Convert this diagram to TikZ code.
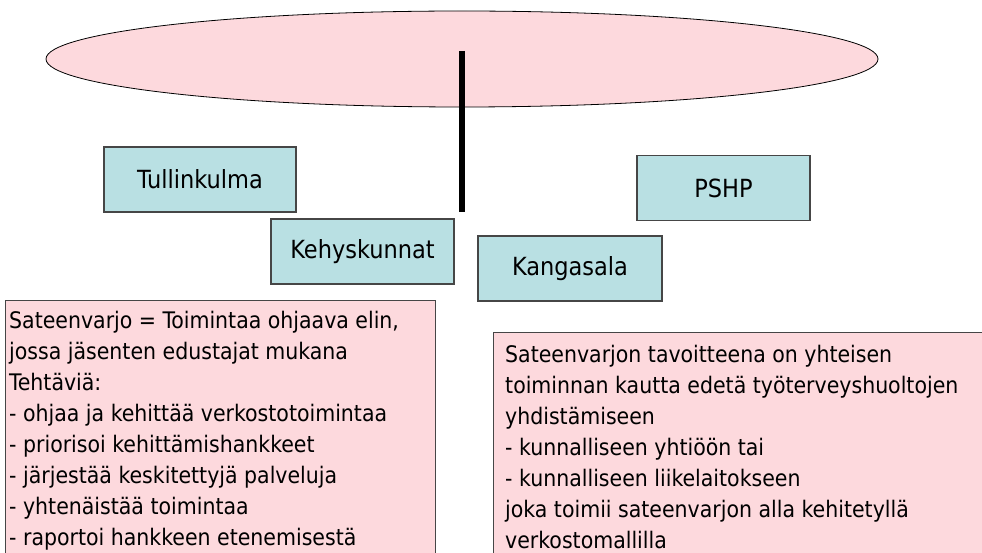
\documentclass[tikz,border=0pt]{standalone}
\usepackage{fontspec}
\setmainfont{DejaVu Sans Condensed}
\usetikzlibrary{shapes.geometric}
\definecolor{pinkfill}{RGB}{253,217,221}
\definecolor{bluefill}{RGB}{185,224,227}
\definecolor{edgegray}{RGB}{70,70,70}
\tikzset{
  orgbox/.style={draw=edgegray, line width=1.3pt, fill=bluefill, minimum width=#1, minimum height=65pt, inner sep=0pt, font=\fontsize{25}{30}\selectfont},
  infobox/.style={draw=edgegray, line width=1pt, fill=pinkfill},
  infotext/.style={anchor=north west, inner sep=0pt, align=left, font=\fontsize{22.8}{31}\selectfont},
}
\begin{document}
\begin{tikzpicture}[x=1pt,y=-1pt]
\useasboundingbox (0,0) rectangle (982,553);
\clip (0,0) rectangle (982,553);
\node[draw=black, line width=0.8pt, fill=pinkfill, ellipse, minimum width=832pt, minimum height=96pt, inner sep=0pt] (umbrella) at (462,59) {};
\coordinate (poletop) at (462,51);
\coordinate (polebottom) at (462,212);
\draw[line width=6pt] (poletop) -- (polebottom);
\node[orgbox=192pt] (tulli) at (200,179.5) {Tullinkulma};
\node[orgbox=183pt] (kehys) at (362.5,251.5) {Kehyskunnat};
\node[orgbox=184pt] (kanga) at (570,268.5) {Kangasala};
\node[orgbox=173pt] (pshp) at (723.5,188) {PSHP};
\node[infobox, minimum width=430pt, minimum height=270pt, anchor=north west, inner sep=0pt] (leftbox) at (5,300) {};
\node[infotext] (lefttext) at (9,310.5) {Sateenvarjo = Toimintaa ohjaava elin,\\jossa jäsenten edustajat mukana\\Tehtäviä:\\- ohjaa ja kehittää verkostotoimintaa\\- priorisoi kehittämishankkeet\\- järjestää keskitettyjä palveluja\\- yhtenäistää toimintaa\\- raportoi hankkeen etenemisestä};
\node[infobox, minimum width=500pt, minimum height=240pt, anchor=north west, inner sep=0pt] (rightbox) at (493,332) {};
\node[infotext] (righttext) at (505,344.5) {Sateenvarjon tavoitteena on yhteisen\\toiminnan kautta edetä työterveyshuoltojen\\yhdistämiseen\\- kunnalliseen yhtiöön tai\\- kunnalliseen liikelaitokseen\\joka toimii sateenvarjon alla kehitetyllä\\verkostomallilla};
\end{tikzpicture}
\end{document}
